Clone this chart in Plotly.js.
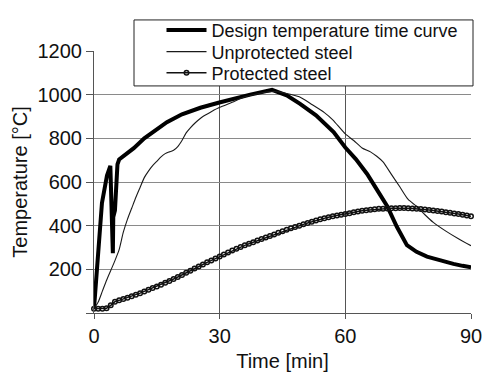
<!DOCTYPE html>
<html>
<head>
<meta charset="utf-8">
<script src="https://cdn.plot.ly/plotly-3.0.1.min.js"></script>
<style>html,body{margin:0;padding:0;background:#fff}#chart{width:483px;height:372px}</style>
</head>
<body>
<div id="chart"></div>
<script>
// Design temperature time curve
const designTime = [0, 1.9, 3.1, 3.9, 4.5, 4.6, 5.0, 5.6, 6.0, 9.5, 12, 14.5, 17.4, 21, 25.4, 29.7, 33.3, 37.3, 42.5, 46, 49.2, 53, 57.2, 60, 62.5, 65.2, 67.5, 70, 72.3, 74.7, 77, 79.5, 81, 83, 85.8, 88, 90];
const designTemp = [20, 504, 630, 674, 274, 440, 470, 681, 703, 755, 800, 835, 874, 910, 940, 963, 981, 1000, 1022, 997, 958, 905, 829, 758, 705, 637, 566, 489, 395, 311, 280, 258, 250, 238, 225, 216, 210];

// Unprotected steel
const unprotTime = [0, 1, 2, 3, 4, 5, 6, 7, 8, 9, 10, 11, 12, 13, 14, 15, 16, 17, 18, 19, 20, 21, 22, 23, 24, 25, 26, 28, 30, 33, 36, 40, 43, 46, 49, 52, 55, 57, 60, 62, 64, 66, 67.5, 69, 71, 73, 75, 77, 79, 81, 84, 87, 90];
const unprotTemp = [20, 50, 100, 150, 195, 240, 290, 370, 430, 480, 530, 575, 620, 650, 675, 695, 715, 730, 738, 745, 762, 790, 825, 848, 868, 885, 900, 922, 942, 965, 990, 1008, 1015, 1005, 990, 955, 918, 885, 820, 790, 756, 738, 718, 692, 635, 578, 520, 489, 450, 415, 375, 340, 308];

// Protected steel (one reading per minute)
const protTime = [];
for (let i = 0; i <= 90; i++) protTime.push(i);
const protTemp = [20, 20, 20, 22, 35, 52, 58, 64, 70, 77,
  84, 91, 99, 107, 114, 121, 129, 138, 147, 156,
  165, 174, 184, 194, 204, 213, 222, 232, 241, 250,
  259, 268, 277, 286, 294, 302, 310, 317, 324, 332,
  339, 346, 353, 360, 367, 374, 381, 388, 394, 400,
  406, 412, 418, 424, 429, 434, 439, 443, 447, 450,
  453, 457, 461, 465, 468, 471, 473, 475, 477, 478,
  479, 480, 480, 481, 481, 480, 479, 478, 476, 474,
  472, 469, 467, 465, 462, 459, 456, 453, 450, 447, 443];

const xTicks = [0, 30, 60, 90];
const yTicks = [0, 200, 400, 600, 800, 1000, 1200];
const yTickText = ['', '200', '400', '600', '800', '1000', '1200'];

const traces = [
  {x: designTime, y: designTemp, mode: 'lines', name: 'Design temperature time curve',
   line: {color: '#000', width: 4}, cliponaxis: false, legend: 'legend'},
  {x: unprotTime, y: unprotTemp, mode: 'lines', name: 'Unprotected steel',
   line: {color: '#1a1a1a', width: 1.1, shape: 'spline', smoothing: 0.6}, cliponaxis: false, legend: 'legend2'},
  {x: protTime, y: protTemp, mode: 'lines+markers', name: 'Protected steel',
   line: {color: '#111', width: 1.5},
   marker: {symbol: 'circle-open', size: 4.5, color: '#111', line: {width: 1.5, color: '#111'}},
   cliponaxis: false, legend: 'legend3'}
];

const font = '"Liberation Sans", Arial, sans-serif';
const legendBase = (yc) => ({x: (161.5 - 94) / 377, y: (313 - yc) / 270, xanchor: 'left', yanchor: 'middle',
  bgcolor: 'rgba(0,0,0,0)', borderwidth: 0, itemwidth: 40,
  font: {family: font, size: 18, color: '#111'}});

const layout = {
  width: 483, height: 372,
  margin: {l: 94, r: 12, t: 43, b: 59, pad: 0},
  paper_bgcolor: '#fff', plot_bgcolor: '#fff',
  font: {family: font, size: 20, color: '#111'},
  showlegend: true,
  legend: legendBase(21.7),
  legend2: legendBase(44),
  legend3: legendBase(65.7),
  xaxis: {range: [0, 90], tickvals: xTicks, ticktext: xTicks.map(String),
    showgrid: true, gridcolor: '#555', gridwidth: 1,
    showline: true, linecolor: '#555', linewidth: 1,
    ticks: 'outside', ticklen: 5, tickcolor: '#555', zeroline: false,
    tickfont: {size: 20},
    title: {text: 'Time [min]', font: {size: 20}, standoff: 8}, automargin: false},
  yaxis: {range: [0, 1200], tickvals: yTicks, ticktext: yTickText,
    showgrid: true, gridcolor: '#8a8a8a', gridwidth: 1,
    showline: true, linecolor: '#555', linewidth: 1,
    ticks: 'outside', ticklen: 7, tickcolor: '#555', zeroline: false,
    tickfont: {size: 20},
    title: {text: 'Temperature [°C]', font: {size: 20}, standoff: 4}, automargin: false},
  shapes: [
    {type: 'rect', xref: 'paper', yref: 'paper', x0: (127-94)/377, x1: 1.01, y0: (313-79)/270, y1: (313-11)/270,
     fillcolor: '#fff', line: {width: 0}, layer: 'above'},
    {type: 'rect', xref: 'paper', yref: 'paper', x0: (466-94)/377, x1: (476-94)/377, y0: (313-87)/270, y1: (313-79)/270,
     fillcolor: '#fff', line: {width: 0}, layer: 'above'},
    {type: 'rect', xref: 'paper', yref: 'paper', x0: (134-94)/377, x1: (473-94)/377, y0: (313-79)/270, y1: (313-11)/270,
     fillcolor: '#fff', line: {width: 1, color: '#222'}, layer: 'above'}
  ]
};

Plotly.newPlot('chart', traces, layout, {displayModeBar: false, staticPlot: true});
</script>
</body>
</html>
